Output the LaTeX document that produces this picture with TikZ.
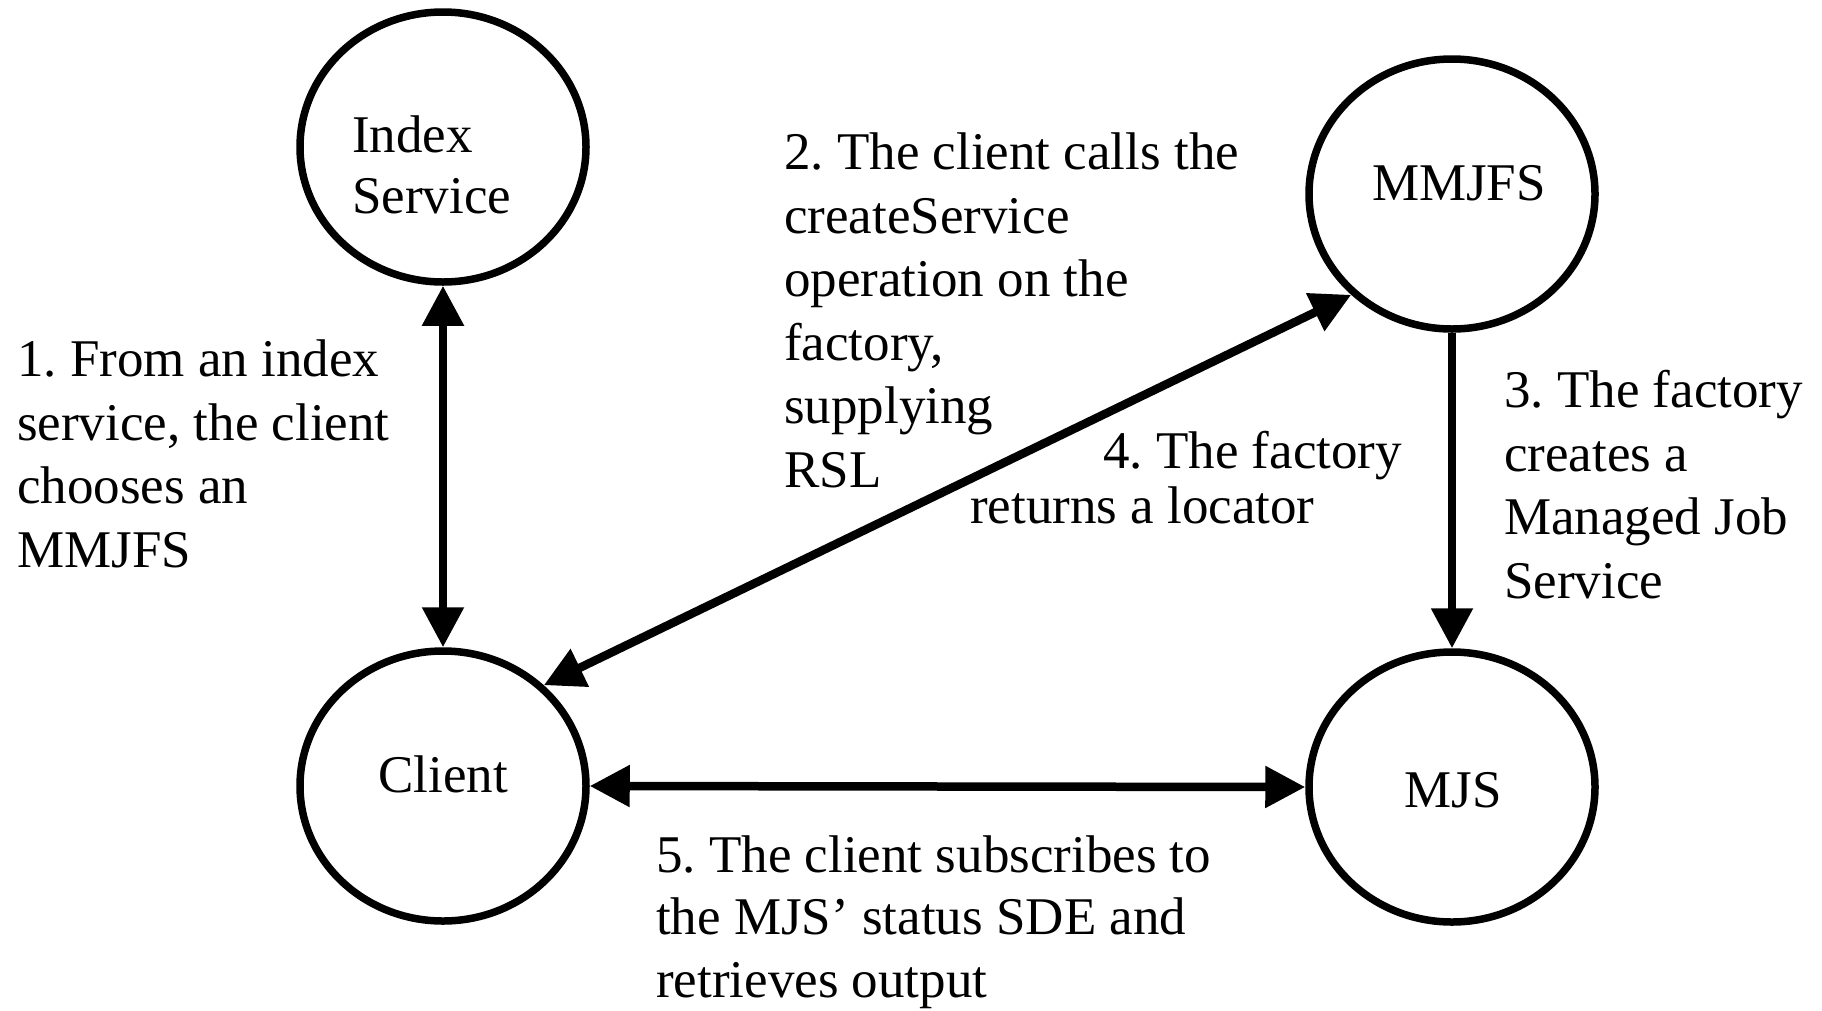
\documentclass[tikz,border=0pt]{standalone}
\usepackage{fontspec}
\setmainfont{Liberation Serif}
\usetikzlibrary{arrows.meta,shapes.geometric}
\frenchspacing
\begin{document}
\begin{tikzpicture}[x=1pt,y=-1pt,
  circ/.style={draw, ellipse, line width=7.5pt, minimum width=286pt, minimum height=270pt, inner sep=0pt},
  lbl/.style={inner sep=0pt, anchor=base west, align=left, font=\fontsize{53pt}{63.5pt}\selectfont},
  ntext/.style={inner sep=0pt, anchor=base, font=\fontsize{53pt}{63.5pt}\selectfont},
  conn/.style={line width=8.5pt, {Triangle[length=40pt,width=40pt]}-{Triangle[length=40pt,width=40pt]}},
  conn1/.style={line width=8.5pt, -{Triangle[length=40pt,width=40pt]}}]
\useasboundingbox (0,0) rectangle (1822,1010);
% circles
\node[circ] (index)  at (443,147) {};
\node[circ] (mmjfs)  at (1452,194) {};
\node[circ] (client) at (443,786) {};
\node[circ] (mjs)    at (1452,787) {};
% circle texts (anchor = baseline of last line)
\node[lbl] (indexT) at (352,213) {Index\\[-2.5pt]Service};
\node[ntext] (mmjfsT) at (1459,200) {MMJFS};
\node[ntext] (clientT) at (443,792) {Client};
\node[ntext] (mjsT) at (1453,807) {MJS};
% connectors
\draw[conn] (index.south) -- (client.north);
\draw[conn] (client.45) -- (mmjfs.225);
\draw[conn1] (mmjfs.south) -- (mjs.north);
\draw[conn] (client.east) -- (mjs.west);
% labels
\node[lbl] (l1) at (17,567) {1. From an index\\service, the client\\chooses an\\MMJFS};
\node[lbl] (l2) at (784,487) {2. The client calls the\\createService\\operation on the\\factory,\\supplying\\RSL};
\node[lbl] (l3) at (1504,598) {3. The factory\\creates a\\Managed Job\\Service};
\node[lbl] (l4) at (970,523) {\hspace*{133pt}4. The factory\\[-8.5pt]returns a locator};
\node[lbl] (l5) at (656,997) {5. The client subscribes to\\[-1pt]the MJS’ status SDE and\\[-1pt]retrieves output};
\end{tikzpicture}
\end{document}
